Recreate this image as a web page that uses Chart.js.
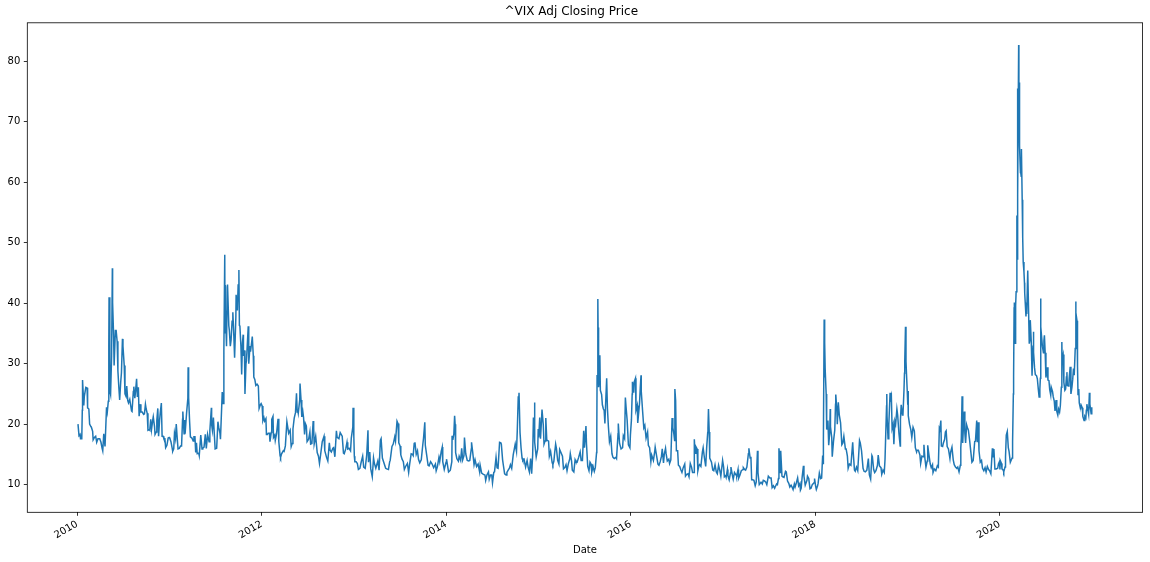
<!DOCTYPE html>
<html>
<head>
<meta charset="utf-8">
<title>^VIX Adj Closing Price</title>
<script src="https://cdn.jsdelivr.net/npm/chart.js@4.4.0/dist/chart.umd.min.js"></script>
<style>
  html, body { margin: 0; padding: 0; background: #fff; }
  #chart { display: block; }
</style>
</head>
<body>
<canvas id="chart" width="1150" height="562"></canvas>
<script>
// ^VIX adjusted close ([month-day, value] per year)
const vix2010 = [
  ["01-04",20.0],["01-08",18.1],["01-12",18.3],["01-14",17.6],["01-19",17.6],["01-21",22.3],["01-22",27.3],["01-27",23.1],
  ["01-29",24.6],["02-04",26.1],["02-09",26.0],["02-11",22.7],["02-16",22.5],["02-19",20.0],["02-24",19.6],["02-26",19.5],
  ["03-03",18.8],["03-05",17.4],["03-10",17.8],["03-15",18.0],["03-19",17.0],["03-24",17.6],["03-31",17.6],["04-05",17.0],
  ["04-09",16.1],["04-12",15.6],["04-16",18.4],["04-21",16.3],["04-27",22.8],["04-30",22.0],["05-04",23.8],["05-06",32.8],
  ["05-07",41.0],["05-10",25.5],["05-13",24.9],["05-17",31.2],["05-20",45.8],["05-21",40.1],["05-25",34.6],["05-27",29.7],
  ["06-01",35.5],["06-04",35.5],["06-08",33.7],["06-11",28.8],["06-15",25.9],["06-18",24.0],["06-22",26.9],["06-25",28.5],
  ["06-29",34.1],["07-01",32.9],["07-06",29.7],["07-09",25.0],["07-13",24.6],["07-16",26.3],["07-20",23.9],["07-23",23.5],
  ["07-28",24.1],["07-30",23.5],["08-04",22.2],["08-06",22.1],["08-11",25.4],["08-13",26.2],["08-17",24.3],["08-20",25.5],
  ["08-24",27.5],["08-27",24.5],["08-31",26.1],["09-03",21.3],["09-08",23.3],["09-10",22.0],["09-15",22.0],["09-17",22.0],
  ["09-21",21.6],["09-24",21.7],["09-28",23.3],["10-01",22.5],["10-05",21.8],["10-08",19.0],["10-13",19.1],["10-15",19.0],
  ["10-19",20.8],["10-22",19.1],["10-27",20.7],["10-29",21.2],["11-03",19.6],["11-05",18.3],["11-10",18.7],["11-12",20.6],
  ["11-16",22.6],["11-19",18.0],["11-23",20.6],["11-26",22.0],["11-30",23.5],["12-03",18.0],["12-07",18.0],["12-10",17.6],
  ["12-14",17.6],["12-17",16.1],["12-22",16.5],["12-27",17.7],["12-31",17.8]
];
const vix2011 = [
  ["01-03",17.6],["01-07",17.1],["01-12",16.0],["01-14",15.5],["01-18",15.9],["01-21",18.5],["01-25",17.6],["01-28",20.0],
  ["02-01",17.6],["02-04",15.9],["02-09",16.0],["02-14",16.4],["02-18",16.4],["02-22",20.8],["02-23",22.1],["02-28",18.4],
  ["03-02",20.7],["03-04",18.4],["03-10",21.9],["03-15",24.3],["03-16",29.4],["03-18",24.4],["03-22",20.3],["03-25",17.9],
  ["03-31",17.7],["04-05",17.2],["04-08",17.9],["04-12",17.9],["04-15",15.3],["04-18",16.9],["04-21",15.1],["04-27",15.2],
  ["04-29",14.8],["05-05",18.2],["05-10",15.9],["05-13",16.0],["05-18",16.2],["05-23",18.3],["05-27",16.0],["06-01",18.3],
  ["06-07",17.1],["06-10",18.9],["06-16",22.7],["06-17",20.0],["06-20",19.0],["06-24",21.1],["06-28",18.1],["07-01",15.9],
  ["07-07",16.0],["07-12",20.4],["07-15",19.5],["07-20",18.5],["07-22",17.5],["07-27",23.0],["07-29",25.3],["08-02",23.4],
  ["08-04",31.7],["08-05",32.0],["08-08",48.0],["08-09",35.1],["08-10",43.0],["08-11",39.0],["08-15",32.9],["08-18",42.7],
  ["08-19",43.1],["08-24",36.3],["08-26",35.6],["08-30",32.9],["09-02",33.9],["09-06",37.0],["09-09",38.5],["09-13",34.6],
  ["09-16",31.0],["09-21",37.8],["09-22",41.4],["09-27",38.8],["09-30",43.0],["10-03",45.5],["10-05",36.3],["10-07",36.2],
  ["10-11",32.9],["10-14",28.2],["10-17",33.4],["10-20",34.8],["10-21",31.3],["10-25",32.2],["10-27",25.0],["10-31",30.0],
  ["11-02",30.5],["11-04",30.5],["11-09",36.2],["11-11",30.0],["11-16",32.9],["11-18",32.0],["11-23",33.7],["11-25",34.5],
  ["11-29",31.3],["12-01",27.8],["12-05",27.4],["12-09",26.4],["12-14",26.6],["12-19",26.3],["12-22",22.6],["12-27",23.2],
  ["12-30",23.4]
];
const vix2012 = [
  ["01-03",23.0],["01-06",20.6],["01-10",21.1],["01-13",20.5],["01-18",20.9],["01-20",18.3],["01-24",18.3],["01-27",18.5],
  ["02-01",18.5],["02-03",17.1],["02-08",18.6],["02-10",20.8],["02-15",21.3],["02-17",17.8],["02-22",18.2],["02-24",17.3],
  ["02-29",18.4],["03-06",20.9],["03-09",17.1],["03-14",14.8],["03-16",14.5],["03-20",15.1],["03-27",15.6],["03-30",15.5],
  ["04-04",16.4],["04-10",20.4],["04-13",19.6],["04-17",18.5],["04-23",19.0],["04-27",16.3],["05-01",16.8],["05-04",19.2],
  ["05-09",21.0],["05-14",21.9],["05-18",25.1],["05-21",22.0],["05-23",22.3],["05-25",21.8],["05-31",24.1],["06-01",26.7],
  ["06-05",24.0],["06-08",21.2],["06-12",22.1],["06-15",21.1],["06-19",18.3],["06-22",20.1],["06-26",19.7],["06-29",17.1],
  ["07-05",17.5],["07-10",18.7],["07-13",16.7],["07-18",16.8],["07-23",20.5],["07-25",19.3],["07-27",16.7],["08-02",18.0],
  ["08-08",15.3],["08-13",14.7],["08-17",13.5],["08-22",15.1],["08-28",17.1],["09-04",18.0],["09-07",15.6],["09-14",14.5],
  ["09-19",13.9],["09-25",16.9],["09-28",15.7],["10-03",15.4],["10-09",16.0],["10-12",16.1],["10-17",14.6],["10-23",18.9],
  ["10-26",17.8],["11-02",17.6],["11-07",18.6],["11-09",18.6],["11-15",18.0],["11-20",15.2],["11-23",15.1],["11-29",15.9],
  ["12-04",17.0],["12-07",15.9],["12-12",16.0],["12-18",15.6],["12-21",17.7],["12-27",19.5],["12-28",22.7],["12-31",18.0]
];
const vix2013 = [
  ["01-02",14.7],["01-04",13.8],["01-09",13.8],["01-14",13.5],["01-18",12.5],["01-24",12.7],["01-29",13.7],["02-04",14.7],
  ["02-08",12.9],["02-14",12.7],["02-20",14.9],["02-25",19.0],["02-27",13.7],["03-04",15.4],["03-08",12.6],["03-14",11.3],
  ["03-19",14.4],["03-22",13.6],["03-28",12.7],["04-05",13.9],["04-10",12.4],["04-15",17.3],["04-18",17.6],["04-23",14.4],
  ["04-30",13.5],["05-06",12.7],["05-10",12.6],["05-17",12.5],["05-22",13.8],["05-24",14.0],["05-31",16.3],["06-05",16.7],
  ["06-11",17.9],["06-14",17.2],["06-20",20.5],["06-24",20.1],["06-27",16.9],["07-02",16.4],["07-05",14.9],["07-10",14.2],
  ["07-15",13.8],["07-19",12.5],["07-24",13.0],["07-31",13.5],["08-05",12.0],["08-09",13.4],["08-15",15.1],["08-20",15.0],
  ["08-23",14.8],["08-27",16.8],["08-30",17.0],["09-04",15.0],["09-09",15.6],["09-13",14.2],["09-18",13.6],["09-24",14.1],
  ["09-30",16.6],["10-03",17.7],["10-08",20.3],["10-10",16.5],["10-16",14.7],["10-21",13.2],["10-25",13.1],["10-31",13.8],
  ["11-06",13.4],["11-12",12.8],["11-19",13.4],["11-22",12.3],["11-27",13.0],["12-03",14.5],["12-06",13.8],["12-12",15.5],
  ["12-16",16.2],["12-18",13.8],["12-24",12.5],["12-31",13.7]
];
const vix2014 = [
  ["01-02",14.2],["01-07",12.9],["01-10",12.1],["01-15",12.3],["01-17",12.4],["01-23",13.8],["01-24",18.1],["01-27",17.4],
  ["01-31",18.4],["02-03",21.4],["02-05",20.0],["02-07",15.3],["02-12",14.3],["02-18",13.9],["02-21",14.7],["02-27",14.0],
  ["03-03",16.0],["03-07",14.1],["03-12",14.8],["03-14",17.8],["03-19",15.1],["03-25",14.0],["03-31",13.9],["04-04",14.0],
  ["04-10",15.9],["04-11",17.0],["04-15",15.6],["04-21",13.3],["04-25",14.1],["05-01",13.0],["05-07",13.4],["05-13",12.1],
  ["05-15",13.2],["05-21",11.9],["05-28",11.7],["06-03",11.6],["06-06",10.7],["06-11",11.6],["06-17",12.1],["06-20",10.9],
  ["06-25",11.6],["06-30",11.6],["07-03",10.3],["07-08",12.0],["07-11",12.1],["07-17",14.5],["07-21",12.8],["07-25",12.7],
  ["07-31",17.0],["08-01",17.0],["08-05",16.9],["08-07",16.7],["08-12",14.1],["08-15",13.2],["08-20",11.8],["08-26",11.6],
  ["08-29",12.0],["09-03",12.4],["09-08",12.7],["09-12",13.3],["09-17",12.7],["09-23",14.9],["09-26",14.9],["10-01",16.7],
  ["10-06",15.5],["10-09",18.8],["10-13",24.6],["10-15",23.9],["10-16",25.2],["10-20",18.6],["10-24",16.1],["10-28",14.4],
  ["10-31",14.0],["11-05",14.2],["11-11",12.9],["11-17",14.0],["11-21",12.9],["11-26",12.1],["12-01",14.3],["12-05",11.8],
  ["12-09",14.9],["12-12",21.1],["12-15",20.4],["12-16",23.6],["12-18",17.0],["12-23",14.6],["12-29",15.9],["12-31",19.2]
];
const vix2015 = [
  ["01-02",17.8],["01-06",21.1],["01-09",17.6],["01-13",20.6],["01-15",22.4],["01-20",19.9],["01-23",16.7],["01-27",17.2],
  ["01-30",21.0],["02-03",17.3],["02-06",17.3],["02-10",17.2],["02-13",14.7],["02-18",15.5],["02-24",13.7],["02-27",13.3],
  ["03-03",13.9],["03-06",15.2],["03-10",16.7],["03-13",16.0],["03-18",14.0],["03-23",13.4],["03-26",15.8],["03-31",15.3],
  ["04-06",14.7],["04-10",12.6],["04-15",12.8],["04-20",13.3],["04-24",12.3],["04-29",13.4],["05-05",14.3],["05-07",15.1],
  ["05-12",13.9],["05-15",12.4],["05-21",12.1],["05-26",14.1],["05-29",13.8],["06-03",13.7],["06-09",14.5],["06-15",15.4],
  ["06-19",14.0],["06-24",14.0],["06-29",18.9],["07-02",16.1],["07-08",19.7],["07-10",16.8],["07-15",13.0],["07-20",12.3],
  ["07-24",13.7],["07-28",13.4],["07-31",12.1],["08-05",13.0],["08-10",12.2],["08-14",12.8],["08-19",15.3],["08-20",19.1],
  ["08-21",28.0],["08-24",40.7],["08-25",36.0],["08-26",30.3],["08-27",26.1],["08-28",26.1],["08-31",28.4],["09-01",31.4],
  ["09-03",25.6],["09-08",24.9],["09-11",23.2],["09-15",22.5],["09-18",22.3],["09-21",20.1],["09-24",23.5],["09-28",27.6],
  ["10-01",22.6],["10-05",19.5],["10-09",17.1],["10-14",18.0],["10-19",15.1],["10-23",14.5],["10-28",14.3],["11-03",14.5],
  ["11-06",14.3],["11-12",18.4],["11-13",20.1],["11-18",16.8],["11-24",15.9],["11-30",16.1],["12-03",18.1],["12-08",17.6],
  ["12-11",24.4],["12-14",22.7],["12-18",20.7],["12-23",16.6],["12-29",16.1],["12-31",18.2]
];
const vix2016 = [
  ["01-04",20.7],["01-07",25.0],["01-08",27.0],["01-13",25.2],["01-15",27.0],["01-20",27.6],["01-22",22.3],["01-27",23.1],
  ["01-29",20.2],["02-02",22.0],["02-05",23.4],["02-08",26.0],["02-11",28.1],["02-12",25.4],["02-17",22.3],["02-22",19.4],
  ["02-26",19.8],["03-02",17.7],["03-08",18.7],["03-11",16.5],["03-16",16.1],["03-21",13.8],["03-24",14.9],["03-31",14.0],
  ["04-05",15.4],["04-07",16.2],["04-12",14.9],["04-18",13.4],["04-22",13.2],["04-27",13.8],["05-02",14.7],["05-05",15.9],
  ["05-10",13.6],["05-13",15.0],["05-18",16.0],["05-20",15.2],["05-25",13.9],["05-31",14.2],["06-03",13.5],["06-08",14.1],
  ["06-13",21.0],["06-16",19.4],["06-20",18.4],["06-23",17.3],["06-24",25.8],["06-27",23.9],["06-30",15.6],["07-05",15.6],
  ["07-08",13.2],["07-13",13.0],["07-18",12.4],["07-22",12.0],["07-27",12.8],["08-02",13.4],["08-05",11.4],["08-10",11.7],
  ["08-15",11.8],["08-19",11.3],["08-24",13.5],["08-29",12.9],["09-02",12.0],["09-08",12.0],["09-09",17.5],["09-12",15.2],
  ["09-15",16.3],["09-20",15.9],["09-23",12.3],["09-27",13.1],["09-30",13.3],["10-05",13.0],["10-11",15.4],["10-14",16.1],
  ["10-19",14.4],["10-24",13.0],["10-28",16.2],["11-01",18.6],["11-02",19.3],["11-04",22.5],["11-07",18.7],["11-09",14.4],
  ["11-11",14.2],["11-16",13.7],["11-21",12.4],["11-25",12.3],["11-30",13.3],["12-05",12.1],["12-09",11.8],["12-14",13.2],
  ["12-19",12.3],["12-23",11.4],["12-30",14.0]
];
const vix2017 = [
  ["01-03",12.9],["01-06",11.3],["01-11",11.5],["01-13",11.2],["01-18",12.5],["01-20",11.5],["01-25",10.8],["01-30",11.9],
  ["02-01",12.9],["02-07",11.5],["02-10",10.9],["02-15",12.0],["02-21",11.6],["02-24",11.5],["03-01",12.5],["03-03",11.0],
  ["03-08",11.5],["03-14",12.3],["03-21",12.5],["03-22",12.8],["03-27",12.5],["03-31",12.4],["04-05",12.9],["04-11",15.1],
  ["04-13",16.0],["04-18",14.4],["04-21",14.6],["04-24",10.8],["04-28",10.8],["05-03",10.7],["05-08",9.8],["05-12",10.4],
  ["05-17",15.6],["05-19",12.0],["05-24",10.0],["05-31",10.4],["06-05",10.1],["06-09",10.7],["06-14",10.6],["06-19",10.4],
  ["06-23",10.0],["06-29",11.4],["07-05",11.1],["07-10",11.1],["07-14",9.5],["07-19",9.8],["07-24",9.4],["07-26",9.6],
  ["08-01",10.1],["08-04",10.0],["08-08",11.0],["08-10",16.0],["08-11",15.5],["08-15",12.0],["08-17",15.6],["08-22",11.4],
  ["08-25",11.3],["08-30",11.2],["09-05",12.2],["09-08",12.1],["09-13",10.6],["09-18",10.2],["09-22",9.6],["09-27",9.9],
  ["10-02",9.5],["10-05",9.2],["10-10",10.1],["10-13",9.6],["10-18",10.3],["10-23",11.1],["10-27",9.8],["11-01",10.2],
  ["11-03",9.1],["11-06",9.4],["11-10",11.3],["11-15",13.1],["11-17",11.4],["11-22",9.9],["11-29",10.7],["12-01",11.4],
  ["12-06",11.0],["12-11",9.3],["12-15",9.4],["12-20",10.0],["12-27",10.3],["12-29",11.0]
];
const vix2018 = [
  ["01-02",9.8],["01-05",9.2],["01-10",9.8],["01-12",10.2],["01-17",11.9],["01-22",11.0],["01-26",11.1],["01-30",14.8],
  ["02-01",13.5],["02-02",17.3],["02-05",37.3],["02-06",30.0],["02-07",27.7],["02-08",33.5],["02-09",29.1],["02-13",25.0],
  ["02-15",19.1],["02-20",20.6],["02-23",16.5],["02-27",18.6],["03-01",22.5],["03-02",19.6],["03-07",17.8],["03-09",14.6],
  ["03-14",17.2],["03-19",19.0],["03-22",23.3],["03-23",24.9],["03-27",22.5],["03-29",20.0],["04-02",23.6],["04-06",21.5],
  ["04-11",20.2],["04-16",16.6],["04-20",16.9],["04-24",18.0],["04-30",15.9],["05-03",15.9],["05-08",14.7],["05-11",12.7],
  ["05-16",13.4],["05-22",13.2],["05-29",17.0],["05-31",15.4],["06-05",12.4],["06-08",12.2],["06-13",12.9],["06-18",12.3],
  ["06-25",17.3],["06-28",16.9],["07-03",15.6],["07-09",12.7],["07-13",12.2],["07-18",12.1],["07-24",12.4],["07-30",14.3],
  ["08-03",11.6],["08-08",10.9],["08-13",14.8],["08-15",14.6],["08-20",12.5],["08-24",12.0],["08-29",12.3],["09-04",13.2],
  ["09-07",14.9],["09-12",13.1],["09-18",12.8],["09-21",11.7],["09-26",12.4],["10-01",12.0],["10-04",14.2],["10-10",23.0],
  ["10-11",25.0],["10-12",21.3],["10-16",17.6],["10-19",19.9],["10-24",25.2],["10-26",24.2],["10-29",24.7],["11-01",19.3],
  ["11-05",20.0],["11-08",16.7],["11-12",20.5],["11-15",20.0],["11-20",22.5],["11-23",21.5],["11-28",18.5],["12-03",16.4],
  ["12-04",20.7],["12-07",23.2],["12-12",21.5],["12-14",21.6],["12-18",25.6],["12-20",28.4],["12-21",30.1],["12-24",36.1],
  ["12-26",30.4],["12-28",28.3],["12-31",25.4]
];
const vix2019 = [
  ["01-02",23.2],["01-03",25.5],["01-04",21.4],["01-09",20.0],["01-14",19.1],["01-18",17.8],["01-23",19.5],["01-28",18.9],
  ["02-01",16.1],["02-06",15.4],["02-08",15.7],["02-13",15.7],["02-19",14.9],["02-22",13.5],["02-27",14.7],["03-04",14.6],
  ["03-07",16.6],["03-11",14.3],["03-15",12.9],["03-20",13.9],["03-22",16.5],["03-27",14.9],["04-01",13.4],["04-05",12.8],
  ["04-10",13.3],["04-12",12.0],["04-17",12.6],["04-23",12.3],["04-29",13.1],["05-03",12.9],["05-07",19.3],["05-09",19.1],
  ["05-13",20.6],["05-15",16.4],["05-20",16.3],["05-23",16.9],["05-28",17.5],["05-31",18.7],["06-03",18.9],["06-07",16.3],
  ["06-12",15.9],["06-18",14.3],["06-21",15.4],["06-26",16.2],["07-01",14.1],["07-05",13.3],["07-10",12.9],["07-15",12.7],
  ["07-19",12.9],["07-24",12.1],["07-29",13.2],["07-31",16.1],["08-02",17.6],["08-05",24.6],["08-07",19.5],["08-08",16.9],
  ["08-12",21.1],["08-14",22.1],["08-16",18.5],["08-19",16.9],["08-23",19.9],["08-27",19.3],["08-30",19.0],["09-04",17.3],
  ["09-09",15.3],["09-13",13.7],["09-18",14.0],["09-24",17.1],["09-27",17.2],["10-02",20.6],["10-04",17.0],["10-08",20.3],
  ["10-11",15.6],["10-16",13.7],["10-21",14.0],["10-25",12.7],["10-30",12.3],["11-04",12.8],["11-08",12.1],["11-13",13.0],
  ["11-18",12.5],["11-22",12.3],["11-27",11.8],["12-03",16.0],["12-05",14.5],["12-09",15.9],["12-13",12.6],["12-18",12.6],
  ["12-24",12.7],["12-27",13.4],["12-31",13.8]
];
const vix2020 = [
  ["01-02",12.5],["01-03",14.0],["01-08",13.5],["01-10",12.6],["01-15",12.4],["01-17",12.1],["01-22",12.9],["01-24",14.6],
  ["01-27",18.2],["01-31",18.8],["02-04",16.1],["02-07",15.5],["02-12",13.7],["02-14",13.7],["02-19",14.4],["02-21",17.1],
  ["02-24",25.0],["02-25",27.9],["02-27",39.2],["02-28",40.1],["03-02",33.4],["03-03",36.8],["03-05",39.6],["03-06",41.9],
  ["03-09",54.5],["03-10",47.3],["03-11",53.9],["03-12",75.5],["03-13",57.8],["03-16",82.7],["03-17",75.9],["03-18",76.5],
  ["03-19",72.0],["03-20",66.0],["03-23",61.6],["03-24",61.7],["03-26",61.0],["03-27",65.5],["03-30",57.1],["03-31",53.5],
  ["04-02",50.9],["04-03",46.8],["04-06",45.2],["04-08",43.4],["04-09",41.7],["04-14",37.8],["04-16",40.1],["04-17",38.2],
  ["04-21",45.4],["04-23",41.4],["04-27",33.3],["04-30",34.2],["05-01",37.2],["05-05",33.6],["05-08",28.0],["05-12",33.0],
  ["05-13",35.3],["05-15",31.9],["05-18",29.3],["05-21",28.2],["05-26",28.0],["05-29",27.5],["06-02",25.7],["06-05",24.5],
  ["06-08",25.8],["06-10",27.6],["06-11",40.8],["06-12",36.1],["06-15",34.4],["06-18",32.9],["06-22",31.8],["06-24",33.8],
  ["06-26",34.7],["06-29",31.8],["07-02",27.7],["07-07",29.4],["07-10",27.3],["07-14",27.2],["07-17",25.7],["07-21",24.8],
  ["07-23",26.1],["07-28",25.4],["07-31",24.5],["08-04",23.8],["08-07",22.2],["08-11",24.0],["08-14",22.1],["08-18",21.5],
  ["08-21",22.5],["08-25",22.0],["08-28",23.0],["09-01",26.1],["09-03",33.6],["09-04",30.8],["09-08",31.5],["09-11",26.9],
  ["09-15",25.6],["09-18",25.8],["09-21",27.8],["09-23",28.6],["09-25",26.4],["09-29",26.3],["10-01",26.7],["10-02",27.6],
  ["10-06",29.5],["10-09",25.0],["10-13",26.1],["10-16",27.4],["10-19",29.2],["10-22",28.1],["10-26",32.5],["10-28",40.3],
  ["10-29",37.6],["10-30",38.0],["11-02",37.1],["11-04",29.6],["11-06",24.9],["11-09",25.8],["11-11",23.5],["11-13",23.1],
  ["11-17",22.7],["11-19",23.1],["11-23",22.7],["11-25",21.3],["11-30",20.6],["12-03",21.3],["12-07",21.0],["12-09",22.3],
  ["12-11",23.3],["12-15",22.3],["12-18",21.6],["12-21",25.2],["12-23",23.3],["12-28",21.7],["12-30",22.8],["12-31",22.8]
];

const years = [2010, 2011, 2012, 2013, 2014, 2015, 2016, 2017, 2018, 2019, 2020];
const vixByYear = [vix2010, vix2011, vix2012, vix2013, vix2014, vix2015, vix2016, vix2017, vix2018, vix2019, vix2020];
const xTickYears = [2010, 2012, 2014, 2016, 2018, 2020];
const yTicks = [10, 20, 30, 40, 50, 60, 70, 80];

const DAY = 86400000;
const toDays = (y, md) => {
  const [m, d] = md.split("-").map(Number);
  return Date.UTC(y, m - 1, d) / DAY;
};

const points = [];
years.forEach((y, i) => vixByYear[i].forEach(([md, v]) => points.push({ x: toDays(y, md), y: v })));

// matplotlib style 5% data margins
const xs = points.map(p => p.x), ys = points.map(p => p.y);
const xLo = Math.min(...xs), xHi = Math.max(...xs);
const yLo = Math.min(...ys), yHi = Math.max(...ys);
const xPad = (xHi - xLo) * 0.05, yPad = (yHi - yLo) * 0.05;

Chart.defaults.font.family = "'DejaVu Sans', sans-serif";
Chart.defaults.font.size = 10;
Chart.defaults.color = "#000";

// full box around the plot area, like the mpl spines
const frame = {
  id: "frame",
  afterDraw(chart) {
    const { ctx, chartArea: a } = chart;
    ctx.save();
    ctx.strokeStyle = "#000";
    ctx.lineWidth = 0.8;
    ctx.strokeRect(a.left, a.top, a.right - a.left, a.bottom - a.top);
    ctx.restore();
  }
};

const tickGrid = { drawOnChartArea: false, drawTicks: true, tickLength: 3.5, color: "#000", lineWidth: 0.8 };

new Chart(document.getElementById("chart"), {
  type: "line",
  data: {
    datasets: [{
      label: "Adj Close",
      data: points,
      borderColor: "#1f77b4",
      borderWidth: 1.5,
      pointRadius: 0,
      tension: 0,
      fill: false
    }]
  },
  options: {
    responsive: false,
    animation: false,
    devicePixelRatio: 1,
    layout: { padding: { left: 0, right: 7.4, top: 0, bottom: 0 } },
    plugins: {
      legend: { display: false },
      tooltip: { enabled: false },
      title: {
        display: true,
        text: "^VIX Adj Closing Price",
        color: "#000",
        font: { size: 12, weight: "normal" },
        padding: { top: 5, bottom: 3.4 }
      }
    },
    scales: {
      x: {
        type: "linear",
        min: xLo - xPad,
        max: xHi + xPad,
        afterBuildTicks: s => { s.ticks = xTickYears.map(y => ({ value: Date.UTC(y, 0, 1) / DAY })); },
        ticks: {
          callback: v => String(new Date(v * DAY).getUTCFullYear()),
          minRotation: 30,
          maxRotation: 30,
          autoSkip: false,
          padding: 2.5,
          color: "#000"
        },
        grid: tickGrid,
        border: { display: false },
        title: { display: true, text: "Date", color: "#000", font: { size: 10 }, padding: { top: 0, bottom: 6 } },
        afterFit: s => { s.height = 49.7; }
      },
      y: {
        type: "linear",
        min: yLo - yPad,
        max: yHi + yPad,
        afterBuildTicks: s => { s.ticks = yTicks.map(v => ({ value: v })); },
        ticks: { padding: 3.5, color: "#000" },
        grid: tickGrid,
        border: { display: false },
        afterFit: s => { s.width = 27.3; }
      }
    }
  },
  plugins: [frame]
});
</script>
</body>
</html>
